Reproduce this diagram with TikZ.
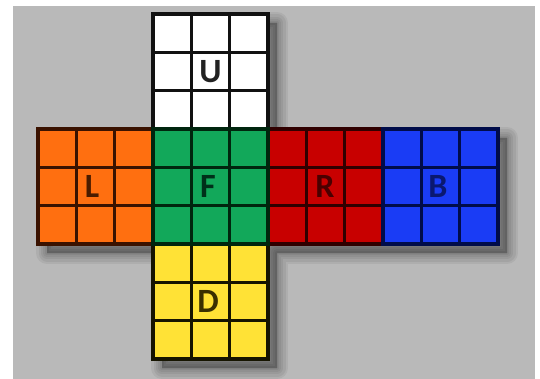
\documentclass[tikz,border=0pt]{standalone}
\usepackage{fontspec}
\newfontfamily\facefont{Carlito}
\definecolor{bg}{HTML}{B9B9B9}
\definecolor{cU}{HTML}{FFFFFF}
\definecolor{cL}{HTML}{FF6F10}
\definecolor{cF}{HTML}{12A85A}
\definecolor{cR}{HTML}{C80000}
\definecolor{cB}{HTML}{1A3CF5}
\definecolor{cD}{HTML}{FFE236}
\definecolor{lU}{HTML}{111111}
\definecolor{lL}{HTML}{3A1200}
\definecolor{lF}{HTML}{00260E}
\definecolor{lR}{HTML}{300000}
\definecolor{lB}{HTML}{000C4A}
\definecolor{lD}{HTML}{161400}
\definecolor{tU}{HTML}{222222}
\definecolor{tL}{HTML}{4A1C00}
\definecolor{tF}{HTML}{00301A}
\definecolor{tR}{HTML}{4A0000}
\definecolor{tB}{HTML}{0A1870}
\definecolor{tD}{HTML}{3A3000}
\tikzset{
  facelabel/.style={font=\facefont\bfseries\fontsize{34}{34}\selectfont, inner sep=0pt, anchor=center},
  gridline/.style={line width=3.6pt, line cap=rect},
}
% #1 x, #2 y (top-left), #3 fill, #4 line colour
\newcommand{\cubeface}[4]{%
  \fill[#3] (#1,#2) rectangle ++(115,115);
  \foreach \k in {0,1,2,3}{%
    \draw[gridline,#4] ({#1+\k*115/3},#2) -- ++(0,115);
    \draw[gridline,#4] (#1,{#2+\k*115/3}) -- ++(115,0);
  }%
}
\begin{document}
\begin{tikzpicture}[x=1pt,y=-1pt]
\useasboundingbox (0,0) rectangle (540,379);
\fill[white] (0,0) rectangle (540,379);
\fill[bg] (13,6) rectangle (535,379);
% shadow
\foreach \w in {22,17,12,8,4}{
  \filldraw[black, opacity=0.06, line width=\w pt, line join=round]
    (162,23) -- (277,23) -- (277,138) -- (507,138) -- (507,253) -- (277,253)
    -- (277,368) -- (162,368) -- (162,253) -- (47,253) -- (47,138) -- (162,138) -- cycle;
}
\cubeface{153}{14}{cU}{lU}
\cubeface{38}{129}{cL}{lL}
\cubeface{268}{129}{cR}{lR}
\cubeface{383}{129}{cB}{lB}
\cubeface{153}{244}{cD}{lD}
\cubeface{153}{129}{cF}{lF}
\node[facelabel, text=tU] (U) at (210.5,71.5) {U};
\node[facelabel, text=tL] (L) at (92,186.5) {L};
\node[facelabel, text=tF] (F) at (208,186.5) {F};
\node[facelabel, text=tR] (R) at (325,186.5) {R};
\node[facelabel, text=tB] (B) at (438,186.5) {B};
\node[facelabel, text=tD] (D) at (208,301.5) {D};
\end{tikzpicture}
\end{document}
